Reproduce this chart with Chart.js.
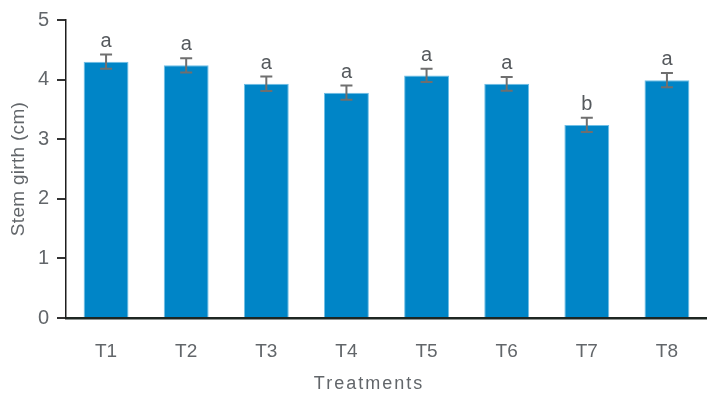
<!DOCTYPE html>
<html>
<head>
<meta charset="utf-8">
<script src="https://cdn.jsdelivr.net/npm/chart.js@4/dist/chart.umd.min.js"></script>
<style>
  html, body { margin: 0; padding: 0; background: #ffffff; }
  #wrap { width: 707px; height: 394px; position: relative; }
</style>
</head>
<body>
<div id="wrap"><canvas id="chart"></canvas></div>
<script>
// Stem girth per treatment: means, standard errors and significance groups
const treatments = ['T1', 'T2', 'T3', 'T4', 'T5', 'T6', 'T7', 'T8'];
const girth = [4.30, 4.24, 3.93, 3.78, 4.07, 3.93, 3.24, 3.99];
const stdErr = [0.12, 0.12, 0.12, 0.12, 0.11, 0.115, 0.12, 0.12];
const groups = ['a', 'a', 'a', 'a', 'a', 'a', 'b', 'a'];
const yTicks = [0, 1, 2, 3, 4, 5];

const FONT = '"Liberation Sans", Arial, sans-serif';
const TEXT = '#62666a';

// Error bars with caps, and the group letter above each bar
const errorBars = {
  id: 'errorBars',
  afterDatasetsDraw(chart) {
    const ctx = chart.ctx;
    const y = chart.scales.y;
    const meta = chart.getDatasetMeta(0);
    ctx.save();
    ctx.strokeStyle = '#6f6f6f';
    ctx.lineWidth = 2;
    meta.data.forEach((bar, i) => {
      const top = y.getPixelForValue(girth[i] + stdErr[i]);
      const bot = y.getPixelForValue(girth[i] - stdErr[i]);
      const x = bar.x;
      const cap = 6;
      ctx.beginPath();
      ctx.moveTo(x, top); ctx.lineTo(x, bot);
      ctx.moveTo(x - cap, top); ctx.lineTo(x + cap, top);
      ctx.moveTo(x - cap, bot); ctx.lineTo(x + cap, bot);
      ctx.stroke();
      ctx.fillStyle = '#55595d';
      ctx.font = '20px ' + FONT;
      ctx.textAlign = 'center';
      ctx.textBaseline = 'alphabetic';
      ctx.fillText(groups[i], x, top - 8);
    });
    ctx.restore();
  }
};

// Axis titles, drawn with letter spacing
const axisTitles = {
  id: 'axisTitles',
  afterDraw(chart) {
    const ctx = chart.ctx;
    const area = chart.chartArea;
    ctx.save();
    ctx.fillStyle = TEXT;
    ctx.textAlign = 'center';
    ctx.textBaseline = 'middle';
    ctx.font = '18px ' + FONT;
    ctx.letterSpacing = '2px';
    ctx.fillText('Treatments', 369, 384);
    ctx.letterSpacing = '0.3px';
    ctx.font = '19px ' + FONT;
    ctx.translate(19, (area.top + area.bottom) / 2);
    ctx.rotate(-Math.PI / 2);
    ctx.fillText('Stem girth (cm)', 0, 0);
    ctx.restore();
  }
};

new Chart(document.getElementById('chart'), {
  type: 'bar',
  data: {
    labels: treatments,
    datasets: [{
      data: girth,
      backgroundColor: '#0085c7',
      borderColor: '#6fbfe6',
      borderWidth: { top: 1, left: 1, right: 1, bottom: 0 },
      barPercentage: 0.56,
      categoryPercentage: 1.0
    }]
  },
  options: {
    responsive: true,
    maintainAspectRatio: false,
    animation: false,
    layout: { padding: { top: 20, right: 0, left: 0, bottom: 0 } },
    plugins: { legend: { display: false }, tooltip: { enabled: false } },
    scales: {
      x: {
        grid: { display: false },
        border: { display: true, color: '#1e2622', width: 2.5 },
        ticks: { color: TEXT, font: { family: FONT, size: 19 }, padding: 14 },
        afterFit(scale) { scale.height = 76; }
      },
      y: {
        min: 0,
        max: 5,
        afterBuildTicks(scale) { scale.ticks = yTicks.map(v => ({ value: v })); },
        grid: {
          display: true,
          drawOnChartArea: false,
          drawTicks: true,
          tickLength: 9,
          color: '#333333',
          lineWidth: 2
        },
        border: { display: true, color: '#1e1e1e', width: 1.5 },
        ticks: { color: TEXT, font: { family: FONT, size: 20 }, padding: 8 },
        afterFit(scale) { scale.width = 66; }
      }
    }
  },
  plugins: [errorBars, axisTitles]
});
</script>
</body>
</html>
